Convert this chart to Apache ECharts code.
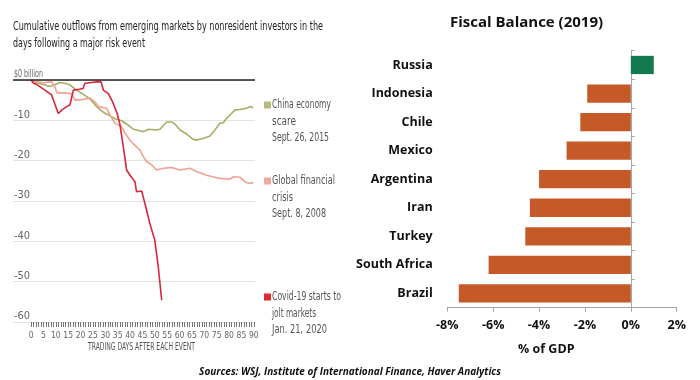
<!DOCTYPE html>
<html>
<head>
<meta charset="utf-8">
<script src="https://cdn.jsdelivr.net/npm/echarts@6/dist/echarts.min.js"></script>
<style>
html,body{margin:0;padding:0;background:#fff;}
#chart{width:700px;height:380px;}
</style>
</head>
<body>
<div id="chart"></div>
<script>
// ---- Left chart data (cumulative outflows, $ billion) ----
const chinaDays = [0,2.3,5,7.5,9.5,11.5,13.5,15.7,18.4,21,23.8,26.5,29.2,31.9,33.9,36.6,38.6,41.3,44,45.4,47.4,50.7,52.1,54.8,56.8,58.1,60.2,62.9,65.5,66.9,69.6,72.3,74.3,76.3,77.7,79,81,82.4,84.4,87.1,88.4,89.8];
const chinaValues = [0,-0.7,-1.1,-1.6,-1.2,-0.6,-0.8,-1.2,-2.5,-3.5,-4.7,-6.6,-8.0,-8.9,-9.6,-10.1,-10.9,-12.2,-12.6,-12.8,-12.2,-12.4,-12.2,-10.4,-10.4,-10.9,-12.4,-13.4,-14.7,-14.9,-14.5,-13.9,-12.4,-10.7,-10.6,-9.5,-8.3,-7.4,-7.3,-7.0,-6.6,-6.9];
const gfcDays = [0,2,5,8.3,9.5,10.5,13,16.5,17.7,21,23.8,25.8,27.2,30.5,31.9,33.9,36.6,38,40,42,44,45.4,46.7,48.7,50.7,53.4,56.8,60.2,64.2,66.9,70.9,76.3,80.3,81.7,84.4,86.4,87.8,89.8];
const gfcValues = [0,-0.4,-0.7,-0.4,-1.5,-3.2,-3.2,-3.4,-5.0,-4.8,-4.5,-5.4,-6.6,-7.0,-8.7,-10.7,-11.6,-13.2,-15.0,-16.2,-17.4,-19.0,-20.2,-21.0,-22.3,-21.9,-21.7,-22.3,-21.9,-22.7,-23.6,-24.4,-24.6,-24.0,-24.1,-25.2,-25.6,-25.5];
const covidDays = [0,1,2.5,5.6,8.3,11,12.5,14.4,15.7,17.1,19.5,21,21.8,24.5,27.2,28.3,29.2,31.2,33,34.8,35.9,37.4,38.6,40,42,42.6,44.7,46.7,48,50,51.4,52.8];
const covidValues = [0,-0.8,-1.2,-2.5,-3.7,-8.3,-7.4,-6.6,-6.2,-2.5,-2.3,-2.1,-0.8,-0.6,-0.4,-0.5,-2.5,-3.3,-5.5,-8.3,-11,-17,-22.3,-23.6,-25.2,-27.7,-27.5,-32.3,-35.6,-39.7,-46.3,-54.6];
const dayTickLabels = [0,5,10,15,20,25,30,35,40,45,50,55,60,65,70,75,80,85,90];
const outflowTicks = [-60,-50,-40,-30,-20,-10,0];
const legendLines = {
  china: ['China economy','scare','Sept. 26, 2015'],
  gfc: ['Global financial','crisis','Sept. 8, 2008'],
  covid: ['Covid-19 starts to','jolt markets','Jan. 21, 2020']
};

// ---- Right chart data (fiscal balance 2019, % of GDP) ----
const countries = ['Brazil','South Africa','Turkey','Iran','Argentina','Mexico','Chile','Indonesia','Russia'];
const fiscalBalance = [-7.5,-6.2,-4.6,-4.4,-4.0,-2.8,-2.2,-1.9,1.0];
const balanceTicks = [-8,-6,-4,-2,0,2];

// ---- styles ----
const C_CHINA = '#a6ad64', C_GFC = '#f2a091', C_COVID = '#d8263a';
const L_CHINA = '#b8ba7f', L_GFC = '#f4a79c', L_COVID = '#e0262f';
const C_NEG = '#c55a28', C_POS = '#137a4f';
const NARROW = "'Liberation Sans Narrow','DejaVu Sans Condensed','Roboto',sans-serif";
const CAL = "'Open Sans','Noto Sans',sans-serif";

const mctx = document.createElement('canvas').getContext('2d');
function fitScale(str, font, w){ mctx.font = font; const m = mctx.measureText(str).width; return Math.min(1, w / m); }

function condensedText(str, x, y, fontSize, weight, color, targetW){
  const font = weight + ' ' + fontSize + 'px ' + NARROW;
  const s = targetW ? fitScale(str, font, targetW) : 1;
  return { type:'text', x:x, y:y, scaleX:s, silent:true,
    style:{ text:str, font:font, fill:color, verticalAlign:'middle', align:'left' } };
}

function toPairs(xs, ys){ return xs.map((d,i)=>[d, ys[i]]); }

const graphics = [
  condensedText('Cumulative outflows from emerging markets by nonresident investors in the', 13, 27, 12.5, 'normal', '#222', 310),
  condensedText('days following a major risk event', 13, 44, 12.5, 'normal', '#222', 132),
  condensedText('TRADING DAYS AFTER EACH EVENT', 88, 347, 11, 'normal', '#555', 107),
  condensedText('$0 billion', 14, 74, 11, 'normal', '#666', 29)
];
function legendBlock(lines, color, y0, widths){
  graphics.push({ type:'rect', x:264, y:y0-3.5, shape:{x:0,y:0,width:7,height:7}, style:{fill:color}, silent:true });
  lines.forEach((t,i)=>graphics.push(condensedText(t, 272, y0 + i*16.5, 12.5, 'normal', '#555', widths[i])));
}
legendBlock(legendLines.china, L_CHINA, 105, [59, 24, 57]);
legendBlock(legendLines.gfc, L_GFC, 181, [63, 21, 54]);
legendBlock(legendLines.covid, L_COVID, 297, [69, 44, 55]);

const chart = echarts.init(document.getElementById('chart'), null, {renderer:'canvas'});
chart.setOption({
  animation:false,
  backgroundColor:'#fff',
  title:[
    { text:'Fiscal Balance (2019)', left:445, top:10,
      textStyle:{ fontFamily:CAL, fontWeight:'bold', fontSize:15, color:'#111' } },
    { text:'% of GDP', left:513, top:338,
      textStyle:{ fontFamily:CAL, fontWeight:'bold', fontSize:12.5, color:'#111' } },
    { text:'Sources: WSJ, Institute of International Finance, Haver Analytics', left:'center', top:362,
      textStyle:{ fontFamily:CAL, fontWeight:'bold', fontStyle:'italic', fontSize:10, color:'#111' } }
  ],
  graphic: graphics,
  grid:[
    { left:13, right:445, top:80, bottom:58, containLabel:false },
    { left:447.3, right:23.3, top:50.7, bottom:72.3, containLabel:false }
  ],
  xAxis:[
    { type:'value', gridIndex:0, min:-7.3, max:90.5,
      axisLine:{show:false, onZero:false},
      splitLine:{show:false},
      axisTick:{show:true, length:5, customValues: Array.from({length:91},(_, i)=>i), lineStyle:{color:'#777', width:1}},
      axisLabel:{show:true, customValues: dayTickLabels, margin:9, color:'#666', fontSize:8.5, fontFamily:NARROW, hideOverlap:false}
    },
    { type:'value', gridIndex:1, min:balanceTicks[0], max:balanceTicks[balanceTicks.length-1], interval:2,
      axisLine:{show:true, onZero:false, lineStyle:{color:'#a6a6a6', width:1}},
      axisTick:{show:true, length:4, lineStyle:{color:'#a6a6a6'}},
      splitLine:{show:false},
      axisLabel:{formatter:v=>v+'%', margin:11, color:'#111', fontFamily:CAL, fontWeight:'bold', fontSize:12.5}
    }
  ],
  yAxis:[
    { type:'value', gridIndex:0, min:outflowTicks[0], max:outflowTicks[outflowTicks.length-1], interval:10,
      axisLine:{show:false, onZero:false}, axisTick:{show:false},
      splitLine:{show:true, lineStyle:{color:'#e3e3e3', width:1}},
      axisLabel:{inside:true, margin:1, verticalAlign:'bottom', padding:[0,0,0,0], color:'#666', fontSize:11, fontFamily:NARROW,
        formatter:v=> v===0 ? '' : String(v)}
    },
    { type:'category', gridIndex:1, data:countries,
      axisLine:{show:false, onZero:false}, axisTick:{show:false},
      axisLabel:{margin:14.6, color:'#111', fontFamily:CAL, fontWeight:'bold', fontSize:12.5}
    },
    { type:'category', gridIndex:1, data:countries,
      axisLine:{show:true, onZero:true, lineStyle:{color:'#a6a6a6', width:1}},
      axisTick:{show:true, length:4, lineStyle:{color:'#a6a6a6'}},
      axisLabel:{show:false}
    }
  ],
  series:[
    { name:'China economy scare', type:'line', xAxisIndex:0, yAxisIndex:0, data:toPairs(chinaDays, chinaValues),
      showSymbol:false, symbol:'none', lineStyle:{color:C_CHINA, width:1.6}, silent:true,
      markLine:{ silent:true, symbol:['none','none'], label:{show:false},
        lineStyle:{color:'#222', width:1.5, type:'solid'}, data:[{yAxis:0}] } },
    { name:'Global financial crisis', type:'line', xAxisIndex:0, yAxisIndex:0, data:toPairs(gfcDays, gfcValues),
      showSymbol:false, symbol:'none', lineStyle:{color:C_GFC, width:1.6}, silent:true },
    { name:'Covid-19 starts to jolt markets', type:'line', xAxisIndex:0, yAxisIndex:0, data:toPairs(covidDays, covidValues),
      showSymbol:false, symbol:'none', lineStyle:{color:C_COVID, width:1.6}, silent:true },
    { name:'Fiscal Balance (2019)', type:'bar', xAxisIndex:1, yAxisIndex:1, data:fiscalBalance,
      barCategoryGap:'36%', silent:true,
      itemStyle:{ color: p => p.value >= 0 ? C_POS : C_NEG } }
  ]
});
</script>
</body>
</html>
